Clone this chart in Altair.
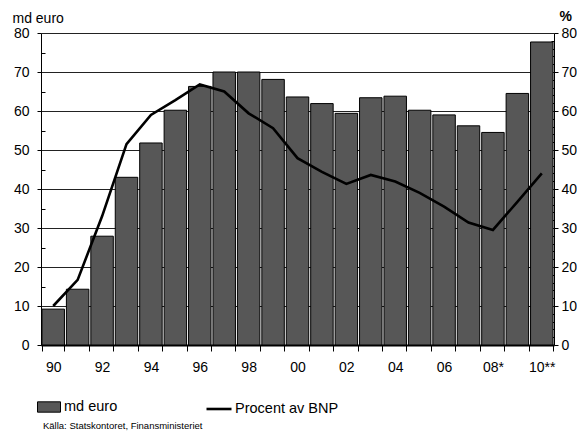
import altair as alt
import pandas as pd

years = ["90", "91", "92", "93", "94", "95", "96", "97", "98", "99", "00",
         "01", "02", "03", "04", "05", "06", "07", "08*", "09", "10**"]
md_euro = [9.2, 14.3, 27.9, 43.0, 51.8, 60.2, 66.3, 70.0, 70.0, 68.1, 63.6,
           61.9, 59.4, 63.4, 63.8, 60.2, 59.0, 56.2, 54.5, 64.5, 77.7]
procent = [10.0, 16.7, 33.0, 51.5, 59.0, 62.8, 66.8, 65.0, 59.4, 55.6, 47.9,
           44.4, 41.3, 43.6, 41.9, 39.0, 35.5, 31.4, 29.5, 36.7, 44.0]
tick_labels = ["90", "92", "94", "96", "98", "00", "02", "04", "06", "08*", "10**"]

df = pd.DataFrame({"year": years, "md": md_euro, "pct": procent,
                   "s1": "md euro", "s2": "Procent av BNP"})

FONT = "Liberation Sans"
FS = 14
label_list = "[" + ",".join("'" + t + "'" for t in tick_labels) + "]"

x = alt.X("year:N", sort=years, title=None,
          scale=alt.Scale(paddingInner=0.08, paddingOuter=0.04),
          axis=alt.Axis(labelExpr=f"indexof({label_list}, datum.value) >= 0 ? datum.value : ''",
                        labelAngle=0, tickBand="extent", tickSize=6, tickColor="black",
                        domainColor="black", domainWidth=2, labelPadding=9,
                        labelFontSize=FS, labelFont=FONT, labelColor="black", grid=False))

yscale = alt.Scale(domain=[0, 80], nice=False)

bars = alt.Chart(df).mark_bar(stroke="black", strokeWidth=1).encode(
    x=x,
    y=alt.Y("md:Q", scale=yscale,
            axis=alt.Axis(values=list(range(0, 81, 10)), title="md euro", titleAngle=0,
                          titleAlign="left", titleBaseline="alphabetic", titleX=-29, titleY=-11,
                          titleFont=FONT, titleFontSize=FS, titleFontWeight="normal",
                          titleColor="black",
                          grid=True, gridColor="#222", gridWidth=1, tickSize=4,
                          tickColor="black", domainColor="black", labelPadding=8,
                          labelFontSize=FS, labelFont=FONT, labelColor="black")),
    fill=alt.Fill("s1:N", scale=alt.Scale(domain=["md euro"], range=["#575757"]),
                  legend=alt.Legend(title=None, orient="none", legendX=-4, legendY=362,
                                    symbolType="M-1,-0.45H1V0.45H-1Z", symbolSize=529,
                                    symbolStrokeColor="black", symbolStrokeWidth=1,
                                    labelFontSize=FS + 0.5, labelFont=FONT, labelColor="black",
                                    labelOffset=3)),
)

minor_left = alt.Chart(df).mark_point(opacity=0).encode(
    x=alt.X("year:N", sort=years),
    y=alt.Y("md:Q", scale=yscale,
            axis=alt.Axis(orient="right", offset=-513, values=list(range(5, 80, 10)),
                          labels=False, domain=False, grid=False, title=None,
                          tickSize=4, tickColor="black")),
)

line = alt.Chart(df).mark_line(strokeWidth=2.6).encode(
    x=alt.X("year:N", sort=years),
    y=alt.Y("pct:Q", scale=yscale,
            axis=alt.Axis(orient="right", values=list(range(0, 81, 10)), title="%",
                          titleAngle=0, titleAlign="left", titleBaseline="alphabetic",
                          titleX=5, titleY=-13, titleFont=FONT, titleFontSize=FS,
                          titleFontWeight="bold", titleColor="black",
                          grid=False, tickSize=4, tickColor="black", domainColor="black",
                          labelPadding=3, labelFontSize=FS, labelFont=FONT,
                          labelColor="black")),
    stroke=alt.Stroke("s2:N", scale=alt.Scale(domain=["Procent av BNP"], range=["black"]),
                      legend=alt.Legend(title=None, orient="none", legendX=164, legendY=362,
                                        symbolType="stroke", symbolSize=625,
                                        symbolStrokeWidth=2.6,
                                        labelFontSize=FS + 0.5, labelFont=FONT,
                                        labelColor="black", labelOffset=2)),
)

minor_right = alt.Chart(df).mark_point(opacity=0).encode(
    x=alt.X("year:N", sort=years),
    y=alt.Y("pct:Q", scale=yscale,
            axis=alt.Axis(orient="left", offset=-513, values=[v for v in range(0, 81, 2) if v % 10],
                          labels=False, domain=False, grid=False, title=None,
                          tickSize=3, tickColor="black")),
)

chart = alt.layer(bars, minor_left, line, minor_right).resolve_scale(
    y="independent", fill="independent", stroke="independent"
).properties(
    width=513, height=312,
    autosize=alt.AutoSizeParams(type="none"),
    padding={"left": 33, "top": 25, "right": 23, "bottom": 87},
    title=alt.TitleParams("Källa: Statskontoret,  Finansministeriet", orient="bottom",
                          anchor="start", frame="group", font=FONT, fontSize=9.5,
                          fontWeight="normal", color="black", offset=5, dx=2),
).configure_view(stroke="black", strokeWidth=1).configure(background="white")

chart.save("out.html", embed_options={"renderer": "svg", "actions": False})
